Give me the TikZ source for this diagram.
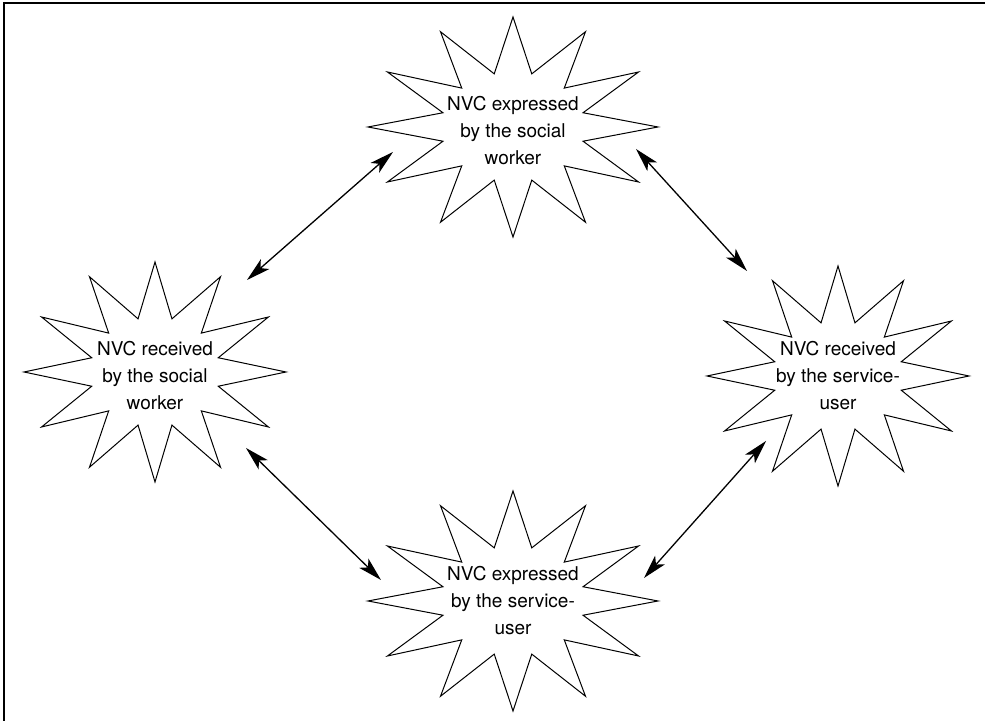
\documentclass[tikz,border=0pt]{standalone}
\usepackage{fontspec}
\setmainfont{TeX Gyre Heros}
\usetikzlibrary{arrows.meta,positioning}

\begin{document}
\begin{tikzpicture}[x=0.5pt, y=0.5pt, on grid,
        burst/.style = {align=center, inner sep=0pt, font=\fontsize{9.5}{13.5}\selectfont},
         link/.style = {{Stealth[length=12pt,width=6.5pt,inset=3pt]}-{Stealth[length=12pt,width=6.5pt,inset=3pt]},
                        line width=0.65pt},
                            ]
    \useasboundingbox (0,0) rectangle (985,721);
    \draw[line width=0.8pt] (4,0) -- (4,718) -- (985,718);
    %
    \node[burst] (exprsw) at (513,590) {NVC expressed\\by the social\\worker};
    \node[burst, below left=122.5pt and 179pt of exprsw]    (recvsw) {NVC received\\by the social\\worker};
    \node[burst, below right=122.5pt and 162.5pt of exprsw] (recvsu) {NVC received\\by the service-\\user};
    \node[burst, below=235pt of exprsw]                     (exprsu) {NVC expressed\\by the service-\\user};
    % twelve-point outlines round the texts
    \foreach \n/\rx/\dy in {exprsw/145/4, recvsw/131/4, recvsu/131/0, exprsu/145/0}
    {
      \pgfmathsetmacro\ix{\rx/2}
      \draw[line width=0.5pt, shift={([yshift=\dy*0.5pt]\n.center)}] ({\rx},0)
        \foreach \a in {0,30,...,330} { -- ({\ix*cos(\a+15)},{55*sin(\a+15)}) -- ({\rx*cos(\a+30)},{110*sin(\a+30)}) } -- cycle;
    }
    % free ends of the arrows
    \coordinate[above right=48pt and 46pt of recvsw]  (sw1);
    \coordinate[below left=10.5pt and 60pt of exprsw]  (es1);
    \coordinate[below right=9pt and 61.5pt of exprsw]  (es2);
    \coordinate[above left=52.5pt and 45.5pt of recvsu] (ru1);
    \coordinate[below right=36pt and 45.5pt of recvsw] (sw2);
    \coordinate[above left=10.5pt and 66pt of exprsu]  (eu1);
    \coordinate[below left=32.5pt and 36pt of recvsu]  (ru2);
    \coordinate[above right=11.5pt and 65.5pt of exprsu] (eu2);
    %
    \draw[link] (sw1) -- (es1);
    \draw[link] (es2) -- (ru1);
    \draw[link] (sw2) -- (eu1);
    \draw[link] (ru2) -- (eu2);
\end{tikzpicture}
\end{document}
